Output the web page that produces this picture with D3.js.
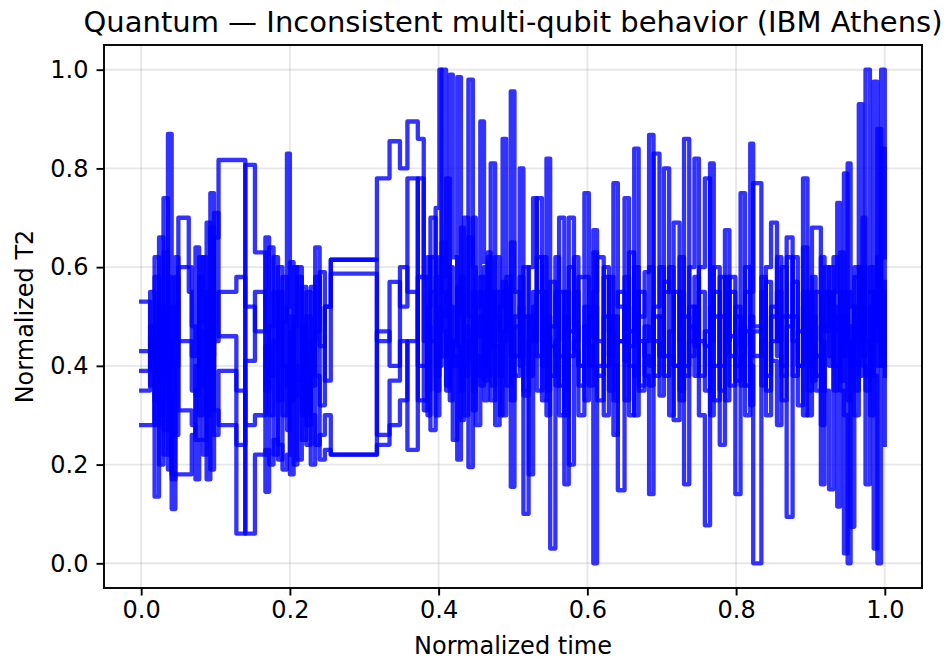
<!DOCTYPE html>
<html>
<head>
<meta charset="utf-8">
<script src="https://cdn.jsdelivr.net/npm/d3@7/dist/d3.min.js"></script>
<style>
  html, body { margin: 0; padding: 0; background: #ffffff; }
  svg { display: block; font-family: "DejaVu Sans", sans-serif; }
</style>
</head>
<body>
<svg id="chart" width="949" height="662"></svg>
<script>
// Shared (irregular) sampling times, normalized to [0, 1]
const time = [
  0, 0.012, 0.018, 0.024, 0.030, 0.036, 0.041, 0.046, 0.050, 0.064, 0.068, 0.073, 0.078, 0.083, 0.088, 0.093, 0.098,
  0.104, 0.128, 0.140, 0.153, 0.167, 0.172, 0.178, 0.184, 0.190, 0.196, 0.200, 0.205, 0.210, 0.216, 0.222, 0.228, 0.234, 0.240, 0.247,
  0.255, 0.317, 0.334, 0.348, 0.358, 0.372,
  0.380, 0.385, 0.389, 0.396, 0.401, 0.404, 0.410, 0.415, 0.419, 0.425, 0.430, 0.434, 0.440, 0.446, 0.450, 0.456,
  0.461, 0.466, 0.470, 0.476, 0.482, 0.486, 0.491, 0.497,
  0.502, 0.509, 0.514, 0.521, 0.527, 0.532, 0.539, 0.545, 0.550, 0.557, 0.562, 0.569, 0.575, 0.582,
  0.588, 0.596, 0.602, 0.608, 0.613, 0.622, 0.629, 0.635, 0.641, 0.650, 0.656, 0.663, 0.669, 0.677, 0.683, 0.689,
  0.697, 0.703, 0.710, 0.716, 0.724, 0.730, 0.737, 0.744, 0.750, 0.758, 0.765, 0.770, 0.778, 0.785, 0.791, 0.799,
  0.806, 0.812, 0.819, 0.823, 0.834, 0.840, 0.847, 0.855, 0.861, 0.868, 0.876, 0.883,
  0.890, 0.896, 0.902, 0.907, 0.914, 0.919,
  0.925, 0.931, 0.936, 0.940, 0.945, 0.950, 0.954, 0.959, 0.965, 0.970, 0.974, 0.980, 0.985, 0.990, 0.995, 1.000
];

// Normalized T2 per qubit
const qubit0 = [
  0.53, 0.36, 0.62, 0.30, 0.74, 0.19, 0.52, 0.40, 0.70, 0.60, 0.48, 0.34, 0.58, 0.25, 0.69, 0.42, 0.66,
  0.817, 0.817, 0.52, 0.47, 0.66, 0.30, 0.55, 0.21, 0.49, 0.83, 0.18, 0.60, 0.37, 0.56, 0.24, 0.45, 0.64, 0.32, 0.52,
  0.615, 0.78, 0.855, 0.80, 0.895, 0.86,
  0.31, 0.62, 0.45, 0.72, 1.00, 0.55, 0.36, 0.60, 0.42, 0.21, 0.58, 0.40, 0.66, 0.35, 0.52, 0.895,
  0.61, 0.38, 0.55, 0.44, 0.30, 0.57, 0.48, 0.65,
  0.38, 0.52, 0.34, 0.60, 0.74, 0.42, 0.55, 0.30, 0.48, 0.62, 0.36, 0.50, 0.20, 0.45,
  0.58, 0.75, 0.40, 0.52, 0.33, 0.58, 0.47, 0.26, 0.55, 0.41, 0.63, 0.38, 0.50, 0.59, 0.868, 0.45,
  0.34, 0.57, 0.42, 0.29, 0.55, 0.40, 0.60, 0.82, 0.45, 0.35, 0.52, 0.40, 0.58, 0.33, 0.46, 0.14,
  0.42, 0.55, 0.85, 0.48, 0.36, 0.57, 0.41, 0.28, 0.50, 0.62, 0.38, 0.47,
  0.55, 0.30, 0.68, 0.68, 0.45, 0.35,
  0.15, 0.52, 0.40, 0.63, 0.30, 0.00, 0.48, 0.35, 0.60, 0.42, 1.00, 0.55, 0.03, 0.62, 0.40, 0.45
];
const qubit1 = [
  0.43, 0.55, 0.135, 0.66, 0.22, 0.45, 0.11, 0.58, 0.45, 0.45, 0.35, 0.17, 0.49, 0.62, 0.30, 0.75, 0.26,
  0.39, 0.06, 0.807, 0.63, 0.145, 0.48, 0.62, 0.33, 0.58, 0.27, 0.50, 0.34, 0.60, 0.30, 0.55, 0.20, 0.47, 0.59, 0.37,
  0.587, 0.45, 0.57, 0.52, 0.78, 0.33,
  0.33, 0.48, 0.27, 0.58, 0.40, 0.65, 0.50, 0.99, 0.62, 0.44, 0.35, 0.70, 0.50, 0.31, 0.46, 0.58,
  0.37, 0.63, 0.44, 0.28, 0.52, 0.86, 0.47, 0.155,
  0.42, 0.58, 0.35, 0.50, 0.45, 0.62, 0.40, 0.82, 0.03, 0.45, 0.55, 0.35, 0.60, 0.43,
  0.30, 0.52, 0.46, 0.63, 0.38, 0.50, 0.42, 0.77, 0.52, 0.33, 0.47, 0.55, 0.36, 0.45, 0.60, 0.38,
  0.50, 0.80, 0.55, 0.40, 0.62, 0.16, 0.48, 0.38, 0.55, 0.44, 0.81, 0.50, 0.35, 0.58, 0.42, 0.52,
  0.36, 0.47, 0.40, 0.00, 0.45, 0.60, 0.69, 0.42, 0.33, 0.50, 0.57, 0.40,
  0.64, 0.46, 0.37, 0.55, 0.28, 0.48,
  0.60, 0.40, 0.115, 0.55, 0.42, 0.81, 0.52, 0.30, 0.58, 0.45, 0.35, 0.60, 0.48, 0.88, 0.42, 0.57
];
const qubit2 = [
  0.35, 0.48, 0.28, 0.50, 0.38, 0.87, 0.17, 0.62, 0.31, 0.31, 0.28, 0.25, 0.25, 0.22, 0.55, 0.19, 0.71,
  0.46, 0.35, 0.06, 0.22, 0.23, 0.20, 0.25, 0.24, 0.19, 0.22, 0.47, 0.20, 0.36, 0.31, 0.42, 0.30, 0.24, 0.26, 0.30,
  0.22, 0.24, 0.37, 0.45, 0.23, 0.58,
  0.58, 0.35, 0.70, 0.30, 0.52, 0.42, 0.78, 0.45, 0.25, 0.55, 0.68, 0.38, 0.98, 0.60, 0.28, 0.50,
  0.40, 0.62, 0.33, 0.55, 0.47, 0.30, 0.58, 0.42,
  0.50, 0.80, 0.10, 0.45, 0.55, 0.35, 0.62, 0.46, 0.38, 0.55, 0.42, 0.30, 0.70, 0.48,
  0.36, 0.58, 0.44, 0.00, 0.40, 0.60, 0.35, 0.50, 0.45, 0.74, 0.40, 0.30, 0.55, 0.42, 0.36, 0.52,
  0.60, 0.38, 0.47, 0.69, 0.33, 0.50, 0.42, 0.58, 0.30, 0.077, 0.45, 0.55, 0.40, 0.675, 0.36, 0.50,
  0.44, 0.60, 0.32, 0.47, 0.55, 0.38, 0.50, 0.62, 0.40, 0.66, 0.45, 0.32,
  0.52, 0.40, 0.58, 0.35, 0.48, 0.60,
  0.42, 0.55, 0.73, 0.37, 0.50, 0.33, 0.45, 0.58, 0.93, 0.40, 0.16, 0.52, 0.38, 0.00, 0.84, 0.62
];
const qubit3 = [
  0.28, 0.28, 0.58, 0.20, 0.63, 0.33, 0.18, 0.18, 0.18, 0.18, 0.26, 0.40, 0.62, 0.36, 0.17, 0.54, 0.31,
  0.28, 0.24, 0.41, 0.55, 0.35, 0.64, 0.22, 0.55, 0.30, 0.52, 0.61, 0.40, 0.21, 0.48, 0.28, 0.56, 0.38, 0.21, 0.23,
  0.22, 0.47, 0.40, 0.60, 0.55, 0.40,
  0.40, 0.52, 0.62, 0.35, 0.48, 1.00, 0.58, 0.33, 0.45, 0.56, 0.29, 0.48, 0.195, 0.55, 0.42, 0.36,
  0.60, 0.47, 0.81, 0.50, 0.38, 0.45, 0.56, 0.33,
  0.48, 0.40, 0.60, 0.18, 0.52, 0.74, 0.45, 0.35, 0.57, 0.42, 0.30, 0.55, 0.47, 0.62,
  0.40, 0.33, 0.50, 0.675, 0.45, 0.30, 0.58, 0.40, 0.148, 0.52, 0.44, 0.60, 0.35, 0.48, 0.40, 0.83,
  0.50, 0.42, 0.30, 0.55, 0.45, 0.38, 0.52, 0.44, 0.60, 0.78, 0.40, 0.33, 0.50, 0.45, 0.58, 0.37,
  0.48, 0.30, 0.55, 0.77, 0.42, 0.35, 0.52, 0.45, 0.60, 0.094, 0.50, 0.40,
  0.30, 0.55, 0.44, 0.38, 0.62, 0.47,
  0.55, 0.35, 0.50, 0.42, 0.79, 0.45, 0.074, 0.52, 0.38, 0.60, 0.45, 0.30, 0.976, 0.40, 0.55, 0.38
];
const qubit4 = [
  0.39, 0.46, 0.33, 0.52, 0.27, 0.58, 0.40, 0.26, 0.60, 0.55, 0.42, 0.64, 0.30, 0.47, 0.38, 0.68, 0.45,
  0.55, 0.58, 0.28, 0.30, 0.44, 0.38, 0.45, 0.60, 0.40, 0.36, 0.33, 0.48, 0.58, 0.25, 0.50, 0.36, 0.58, 0.44, 0.52,
  0.615, 0.26, 0.28, 0.33, 0.45, 0.78,
  0.45, 0.30, 0.55, 0.38, 0.62, 0.47, 0.35, 0.52, 0.40, 0.985, 0.50, 0.30, 0.45, 0.70, 0.38, 0.55,
  0.33, 0.48, 0.36, 0.62, 0.45, 0.55, 0.36, 0.956,
  0.55, 0.42, 0.50, 0.38, 0.47, 0.55, 0.33, 0.50, 0.44, 0.36, 0.70, 0.16, 0.42, 0.55,
  0.40, 0.48, 0.36, 0.55, 0.62, 0.40, 0.50, 0.33, 0.45, 0.58, 0.30, 0.84, 0.45, 0.38, 0.14, 0.50,
  0.42, 0.55, 0.60, 0.40, 0.35, 0.86, 0.45, 0.52, 0.38, 0.47, 0.30, 0.60, 0.24, 0.45, 0.55, 0.40,
  0.75, 0.36, 0.50, 0.42, 0.58, 0.30, 0.45, 0.55, 0.38, 0.48, 0.62, 0.40,
  0.78, 0.35, 0.50, 0.42, 0.16, 0.55,
  0.40, 0.62, 0.47, 0.35, 0.02, 0.55, 0.40, 0.60, 0.45, 0.70, 0.38, 0.55, 0.45, 0.62, 1.00, 0.24
];

const qubits = [qubit0, qubit1, qubit2, qubit3, qubit4];
const xTicks = [0.0, 0.2, 0.4, 0.6, 0.8, 1.0];
const yTicks = [0.0, 0.2, 0.4, 0.6, 0.8, 1.0];

qubits.forEach((q, i) => {
  if (q.length !== time.length) throw new Error("qubit" + i + " has " + q.length + " values, time has " + time.length);
});

const svg = d3.select("#chart");
const W = 949, H = 662;
const plot = { left: 104, right: 922, top: 45, bottom: 588 };

svg.append("rect").attr("width", W).attr("height", H).attr("fill", "#ffffff");

const x = d3.scaleLinear().domain([-0.05, 1.05]).range([plot.left, plot.right]);
const y = d3.scaleLinear().domain([-0.05, 1.05]).range([plot.bottom, plot.top]);

// grid
const grid = svg.append("g").attr("stroke", "#b0b0b0").attr("stroke-opacity", 0.3).attr("stroke-width", 1.9);
grid.selectAll("line.gx").data(xTicks).join("line")
  .attr("x1", d => x(d)).attr("x2", d => x(d))
  .attr("y1", plot.top).attr("y2", plot.bottom);
grid.selectAll("line.gy").data(yTicks).join("line")
  .attr("y1", d => y(d)).attr("y2", d => y(d))
  .attr("x1", plot.left).attr("x2", plot.right);

// step traces, one per qubit
const line = d3.line()
  .x((d, i) => x(time[i]))
  .y(d => y(d))
  .curve(d3.curveStepAfter);

svg.append("defs").append("clipPath").attr("id", "clip")
  .append("rect").attr("x", plot.left).attr("y", plot.top)
  .attr("width", plot.right - plot.left).attr("height", plot.bottom - plot.top);

svg.append("g").attr("clip-path", "url(#clip)")
  .selectAll("path").data(qubits).join("path")
  .attr("d", d => line(d))
  .attr("fill", "none")
  .attr("stroke", "#0000ff")
  .attr("stroke-opacity", 0.8)
  .attr("stroke-width", 4.3)
  .attr("stroke-linejoin", "round")
  .attr("stroke-linecap", "square");

// axes
const fmt = d3.format(".1f");
const xAxis = svg.append("g").attr("transform", `translate(0,${plot.bottom})`)
  .call(d3.axisBottom(x).tickValues(xTicks).tickFormat(fmt).tickSize(7.5).tickPadding(5));
const yAxis = svg.append("g").attr("transform", `translate(${plot.left},0)`)
  .call(d3.axisLeft(y).tickValues(yTicks).tickFormat(fmt).tickSize(7.5).tickPadding(8));
[xAxis, yAxis].forEach(a => {
  a.select(".domain").remove();
  a.selectAll(".tick line").attr("stroke", "#000").attr("stroke-width", 1.9);
  a.selectAll(".tick text").attr("fill", "#000").attr("font-size", "24px")
    .attr("font-family", "DejaVu Sans, sans-serif");
});

// frame
svg.append("rect")
  .attr("x", plot.left).attr("y", plot.top)
  .attr("width", plot.right - plot.left).attr("height", plot.bottom - plot.top)
  .attr("fill", "none").attr("stroke", "#000").attr("stroke-width", 1.9);

// titles
svg.append("text")
  .attr("x", (plot.left + plot.right) / 2).attr("y", 32)
  .attr("text-anchor", "middle").attr("font-size", "29px").attr("fill", "#000")
  .text("Quantum — Inconsistent multi-qubit behavior (IBM Athens)");
svg.append("text")
  .attr("x", (plot.left + plot.right) / 2).attr("y", 654)
  .attr("text-anchor", "middle").attr("font-size", "24px").attr("fill", "#000")
  .text("Normalized time");
svg.append("text")
  .attr("transform", `translate(33,${(plot.top + plot.bottom) / 2}) rotate(-90)`)
  .attr("text-anchor", "middle").attr("font-size", "24px").attr("fill", "#000")
  .text("Normalized T2");
</script>
</body>
</html>
